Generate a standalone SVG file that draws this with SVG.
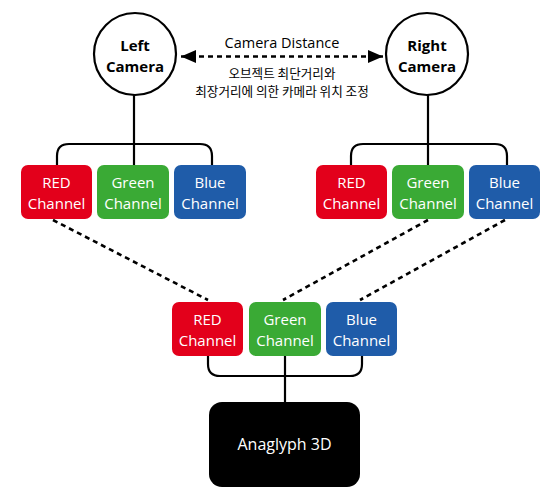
<svg xmlns="http://www.w3.org/2000/svg" width="560" height="503" viewBox="0 0 560 503">
<defs>
<style>
.cam{fill:#fff;stroke:#000;stroke-width:2.2}
.camt{font-family:"Open Sans","Noto Sans",sans-serif;font-weight:bold;font-size:15px;fill:#000;text-anchor:middle}
.box text{font-family:"Open Sans","Noto Sans",sans-serif;font-size:15px;fill:#fff;text-anchor:middle}
.red{fill:#e3001b}
.green{fill:#3aaa35}
.blue{fill:#1f5ca9}
.ln{fill:none;stroke:#000;stroke-width:2.2}
.dash{fill:none;stroke:#000;stroke-width:2.6;stroke-dasharray:5 4}
.lbl{font-family:"Open Sans","Noto Sans",sans-serif;font-size:14.5px;fill:#000;text-anchor:middle}
.kr{font-family:"Noto Sans CJK KR","Noto Sans",sans-serif;font-size:12.6px;fill:#000;text-anchor:middle}
</style>
<marker id="ah" viewBox="0 0 15 13" refX="15" refY="6.5" markerWidth="15" markerHeight="13" orient="auto-start-reverse" markerUnits="userSpaceOnUse">
<path d="M0,0 L15,6.5 L0,13 Z" fill="#000"/>
</marker>
</defs>
<rect width="560" height="503" fill="#fff"/>
<g id="connectors">
<line class="ln" x1="134" y1="95" x2="134" y2="165"/>
<path class="ln" d="M57,165 V156 Q57,144 69,144 H200 Q212,144 212,156 V165"/>
<line class="ln" x1="428" y1="95" x2="428" y2="165"/>
<path class="ln" d="M351,165 V156 Q351,144 363,144 H495 Q507,144 507,156 V165"/>
<path class="ln" d="M208,356 V364 Q208,376 220,376 H350 Q362,376 362,364 V356"/>
<line class="ln" x1="285" y1="356" x2="285" y2="402"/>
<line class="dash" x1="53" y1="220" x2="208" y2="300"/>
<line class="dash" x1="428" y1="220" x2="283" y2="300"/>
<line class="dash" x1="505" y1="220" x2="360" y2="300"/>
<line class="dash" x1="181" y1="56.5" x2="383" y2="56.5" marker-start="url(#ah)" marker-end="url(#ah)"/>
</g>
<g id="left-camera">
<circle class="cam" cx="135" cy="54" r="41"/>
<text class="camt" x="135" y="51">Left</text>
<text class="camt" x="135" y="72">Camera</text>
</g>
<g id="right-camera">
<circle class="cam" cx="427" cy="54" r="41"/>
<text class="camt" x="427" y="51">Right</text>
<text class="camt" x="427" y="72">Camera</text>
</g>
<g id="distance-label">
<text class="lbl" x="282" y="48">Camera Distance</text>
<text class="kr" x="282" y="78">오브젝트 최단거리와</text>
<text class="kr" x="282" y="96">최장거리에 의한 카메라 위치 조정</text>
</g>
<g id="left-red" class="box"><rect class="red" x="21" y="165" width="71" height="54" rx="7"/><text x="56.5" y="188">RED</text><text x="56.5" y="209">Channel</text></g>
<g id="left-green" class="box"><rect class="green" x="97" y="165" width="72" height="54" rx="7"/><text x="133" y="188">Green</text><text x="133" y="209">Channel</text></g>
<g id="left-blue" class="box"><rect class="blue" x="174" y="165" width="72" height="54" rx="7"/><text x="210" y="188">Blue</text><text x="210" y="209">Channel</text></g>
<g id="right-red" class="box"><rect class="red" x="316" y="165" width="71" height="54" rx="7"/><text x="351.5" y="188">RED</text><text x="351.5" y="209">Channel</text></g>
<g id="right-green" class="box"><rect class="green" x="392" y="165" width="72" height="54" rx="7"/><text x="428" y="188">Green</text><text x="428" y="209">Channel</text></g>
<g id="right-blue" class="box"><rect class="blue" x="469" y="165" width="71" height="54" rx="7"/><text x="504.5" y="188">Blue</text><text x="504.5" y="209">Channel</text></g>
<g id="mix-red" class="box"><rect class="red" x="172" y="302" width="71" height="54" rx="7"/><text x="207.5" y="325">RED</text><text x="207.5" y="346">Channel</text></g>
<g id="mix-green" class="box"><rect class="green" x="249" y="302" width="72" height="54" rx="7"/><text x="285" y="325">Green</text><text x="285" y="346">Channel</text></g>
<g id="mix-blue" class="box"><rect class="blue" x="326" y="302" width="71" height="54" rx="7"/><text x="361.5" y="325">Blue</text><text x="361.5" y="346">Channel</text></g>
<g id="anaglyph">
<rect x="209" y="402" width="151" height="85" rx="13" fill="#000"/>
<text x="284.5" y="450" font-family="'Open Sans','Noto Sans',sans-serif" font-size="16" fill="#fff" text-anchor="middle">Anaglyph 3D</text>
</g>
</svg>
